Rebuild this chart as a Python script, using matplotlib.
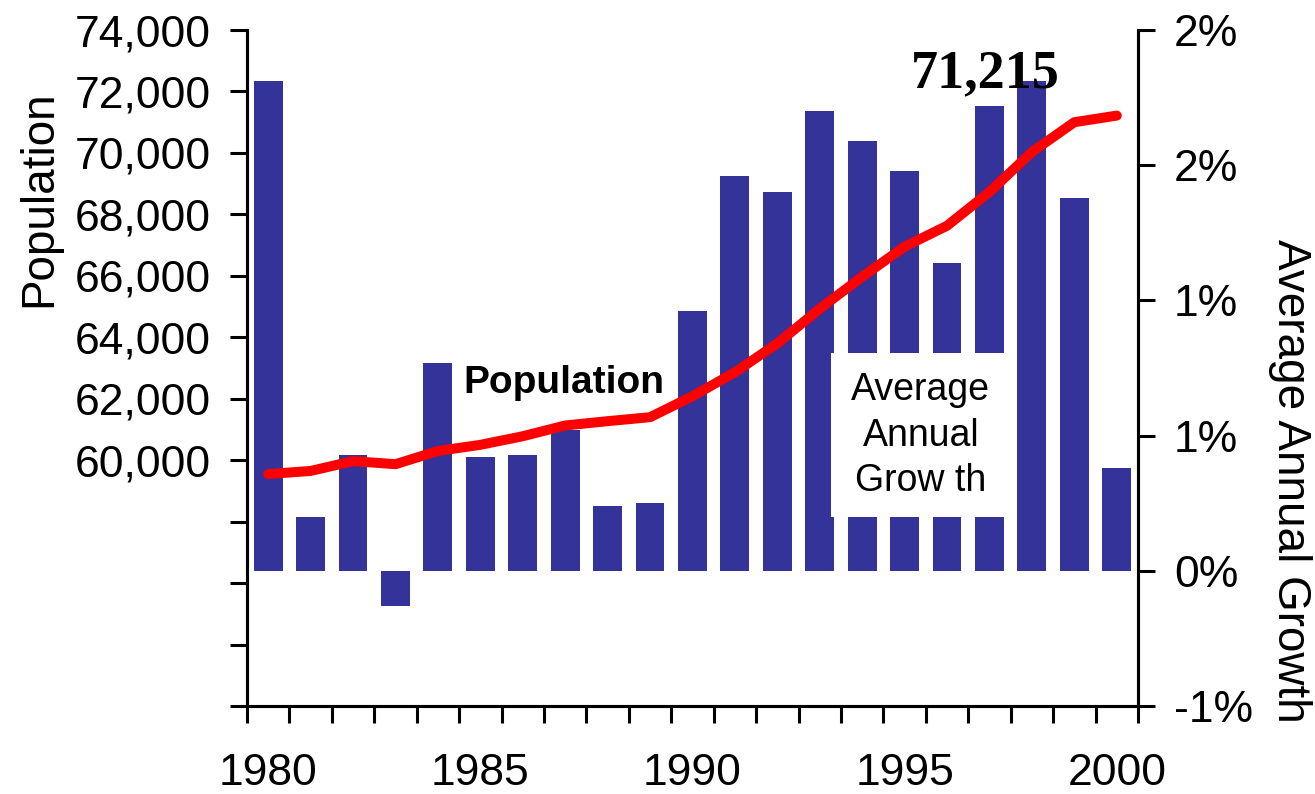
import numpy as np
import matplotlib.pyplot as plt
from matplotlib.patches import Rectangle

plt.rcParams['font.family'] = ['Liberation Sans', 'DejaVu Sans']

years = list(range(1980, 2001))
growth = [1.81, 0.20, 0.43, -0.13, 0.77, 0.42, 0.43, 0.52, 0.24, 0.25, 0.96,
          1.46, 1.40, 1.70, 1.59, 1.48, 1.14, 1.72, 1.81, 1.38, 0.38]
population = [59550, 59650, 59970, 59870, 60300, 60500, 60780, 61130, 61270, 61400, 62080,
              62860, 63800, 64930, 65970, 66950, 67630, 68730, 70030, 71000, 71215]
pop_ticks = list(range(52000, 74001, 2000))
growth_ticks = [-0.5, 0, 0.5, 1.0, 1.5, 2.0]
growth_labels = ['-1%', '0%', '1%', '1%', '2%', '2%']

x = np.arange(len(years))

fig = plt.figure(figsize=(13.15, 7.94), dpi=100)
ax = fig.add_axes([0.1878, 0.1108, 0.6776, 0.8514])  # growth (right side)
ax2 = ax.twinx()                                       # population (left side)

ax.bar(x, growth, width=0.68, color='#333399', zorder=2)
ax.set_xlim(-0.5, len(years) - 0.5)
ax.set_ylim(-0.5, 2.0)
ax.yaxis.tick_right()
ax.set_yticks(growth_ticks)
ax.set_yticklabels(growth_labels)

ax2.yaxis.tick_left()
ax2.plot(x, population, color='#ff0000', lw=7.2, solid_capstyle='round',
         solid_joinstyle='round', zorder=5)
ax2.set_ylim(52000, 74000)
ax2.set_yticks(pop_ticks)
ax2.set_yticklabels([f'{v:,}' if v >= 60000 else '' for v in pop_ticks])

# x axis: labels every 5 years, tick marks between categories
ax.set_xticks(x[::5])
ax.set_xticklabels([str(y) for y in years[::5]])
ax.set_xticks(np.arange(-0.5, len(years)), minor=True)
ax.tick_params(axis='x', which='major', length=0, pad=34, labelsize=32)
ax.tick_params(axis='x', which='minor', length=12, width=2.2, direction='out')

ax.tick_params(axis='y', length=12, width=2.2, pad=14, labelsize=32, direction='out')
ax2.tick_params(axis='y', length=12, width=2.2, pad=14, labelsize=32, direction='out')

for a in (ax, ax2):
    a.spines['top'].set_visible(False)
    for s in ('left', 'right', 'bottom'):
        a.spines[s].set_linewidth(2.2)

# white box label for the bars
ax.add_patch(Rectangle((0.656, 0.279), 0.205, 0.243, transform=ax.transAxes,
                       facecolor='white', edgecolor='none', zorder=3))
ax.text(15.38, 0.50, 'Average\nAnnual\nGrow th', ha='center', va='center',
        fontsize=27, linespacing=1.35, zorder=4)

ax2.text(6.96, 62500, 'Population', ha='center', va='center',
         fontsize=28, fontweight='bold', zorder=6)
ax2.text(16.9, 72560, f'{population[-1]:,}', ha='center', va='center',
         fontsize=39, fontweight='bold', family=['Liberation Serif', 'DejaVu Serif'], zorder=6)

fig.text(0.0295, 0.750, 'Population', rotation=90, ha='center', va='center', fontsize=33)
fig.text(0.981, 0.394, 'Average Annual Growth', rotation=270, ha='center', va='center',
         fontsize=33)

fig.savefig('out.png', dpi=100)
